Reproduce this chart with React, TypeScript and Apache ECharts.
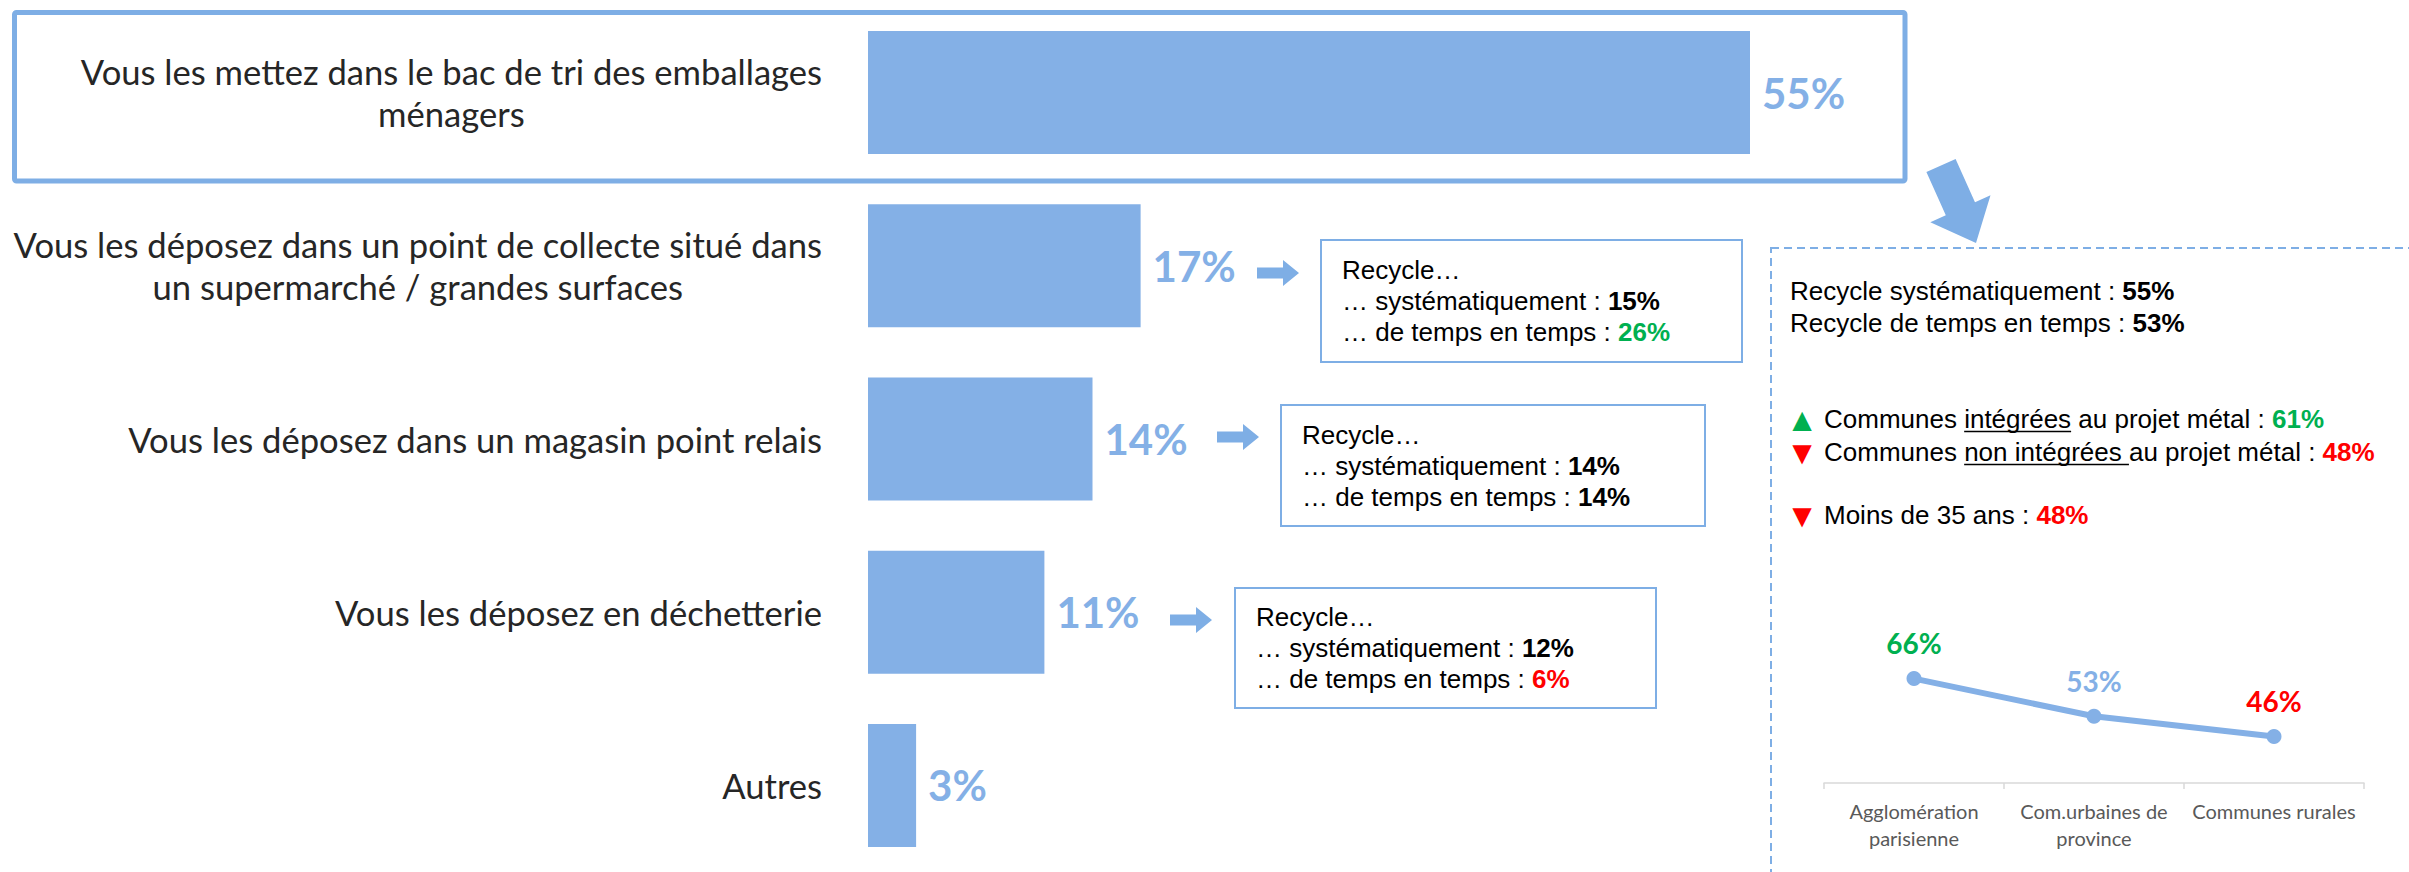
import React, { useEffect, useRef } from "react";
import * as echarts from "echarts";

// ---------- data ----------
const categories = [
  "Vous les mettez dans le bac de tri des emballages\nménagers",
  "Vous les déposez dans un point de collecte situé dans\nun supermarché / grandes surfaces",
  "Vous les déposez dans un magasin point relais",
  "Vous les déposez en déchetterie",
  "Autres",
];
const shares = [55, 17, 14, 11, 3];

// detail boxes for rows 2..4
const recycleSystematic = [15, 14, 12];
const recycleOccasional = [26, 14, 6];

// right panel
const panelSystematic = 55;
const panelOccasional = 53;
const integratedShare = 61;
const nonIntegratedShare = 48;
const under35Share = 48;

const areaCategories = ["Agglomération\nparisienne", "Com.urbaines de\nprovince", "Communes rurales"];
const areaValues = [66, 53, 46];
const areaLabelColors = ["#00b050", "#84b0e6", "#ff0000"];

// ---------- styles ----------
const BAR = "#84b0e6";
const BORDER = "#7eaee5";
const GREEN = "#00b050";
const RED = "#ff0000";
const CAL = "Lato, 'Noto Sans', sans-serif";
const ARIAL = "'Liberation Sans', Arial, sans-serif";
const FS = 26;

function measure(text: string, font: string): number {
  const ctx = document.createElement("canvas").getContext("2d")!;
  ctx.font = font;
  return ctx.measureText(text).width;
}

function rightArrow(x0: number, cy: number) {
  const len = 42, shaftH = 11, headLen = 16, headH = 26;
  const xs = x0 + len - headLen;
  return [
    [x0, cy - shaftH / 2],
    [xs, cy - shaftH / 2],
    [xs, cy - headH / 2],
    [x0 + len, cy],
    [xs, cy + headH / 2],
    [xs, cy + shaftH / 2],
    [x0, cy + shaftH / 2],
  ];
}

export default function App() {
  const ref = useRef<HTMLDivElement>(null);
  useEffect(() => {
    if (!ref.current) return;
    const chart = echarts.init(ref.current, undefined, { renderer: "svg" });

    const nrich = {
      n: { fontFamily: ARIAL, fontSize: FS, fill: "#000", lineHeight: 31 },
      b: { fontFamily: ARIAL, fontSize: FS, fill: "#000", fontWeight: "bold", lineHeight: 31 },
      g: { fontFamily: ARIAL, fontSize: FS, fill: GREEN, fontWeight: "bold", lineHeight: 31 },
      r: { fontFamily: ARIAL, fontSize: FS, fill: RED, fontWeight: "bold", lineHeight: 31 },
      k: { fontFamily: ARIAL, fontSize: FS, fill: "#000", fontWeight: "bold", lineHeight: 31 },
    };
    const occKey = ["g", "k", "r"];

    const boxes = [
      { x: 1321, y: 240, w: 421, h: 122, ax: 1257, ay: 273 },
      { x: 1281, y: 405, w: 424, h: 121, ax: 1217, ay: 437 },
      { x: 1235, y: 588, w: 421, h: 120, ax: 1170, ay: 620 },
    ];

    const graphics: any[] = [];
    // top highlight box
    graphics.push({
      type: "rect",
      shape: { x: 14.5, y: 12.5, width: 1890.5, height: 168.5, r: 2 },
      style: { fill: "none", stroke: BORDER, lineWidth: 5 },
    });
    boxes.forEach((b, i) => {
      graphics.push({
        type: "rect",
        shape: { x: b.x, y: b.y, width: b.w, height: b.h },
        style: { fill: "#fff", stroke: BORDER, lineWidth: 2 },
      });
      graphics.push({
        type: "polygon",
        shape: { points: rightArrow(b.ax, b.ay) },
        style: { fill: BORDER },
      });
      graphics.push({
        type: "text",
        style: {
          x: b.x + 21,
          y: b.y + b.h / 2,
          verticalAlign: "middle",
          align: "left",
          text:
            "{n|Recycle…}\n{n|… systématiquement : }{b|" + recycleSystematic[i] + "%}\n{n|… de temps en temps : }{" +
            occKey[i] + "|" + recycleOccasional[i] + "%}",
          rich: nrich,
          fontFamily: ARIAL,
          fontSize: FS,
          lineHeight: 31,
        },
      });
    });

    // big diagonal arrow
    graphics.push({
      type: "polygon",
      shape: {
        points: [
          [1926.4, 172],
          [1955.6, 159],
          [1975, 202.3],
          [1990.5, 195.3],
          [1976, 243],
          [1930.3, 222.3],
          [1945.8, 215.3],
        ],
      },
      style: { fill: BORDER },
    });

    // dashed panel
    graphics.push({
      type: "rect",
      shape: { x: 1771, y: 248, width: 700, height: 700 },
      style: { fill: "none", stroke: BORDER, lineWidth: 2, lineDash: [8, 5] },
    });

    const font = FS + "px " + ARIAL;
    const tx = 1790;
    graphics.push({
      type: "text",
      style: {
        x: tx, y: 291, verticalAlign: "middle",
        text: "{n|Recycle systématiquement : }{b|" + panelSystematic + "%}",
        rich: nrich, fontFamily: ARIAL, fontSize: FS,
      },
    });
    graphics.push({
      type: "text",
      style: {
        x: tx, y: 323, verticalAlign: "middle",
        text: "{n|Recycle de temps en temps : }{b|" + panelOccasional + "%}",
        rich: nrich, fontFamily: ARIAL, fontSize: FS,
      },
    });

    const lx = 1824;
    const rows = [
      { y: 419, tri: "▲", triColor: GREEN, pre: "Communes ", u: "intégrées", post: " au projet métal : ", val: integratedShare, key: "g" },
      { y: 452, tri: "▼", triColor: RED, pre: "Communes ", u: "non intégrées ", post: "au projet métal : ", val: nonIntegratedShare, key: "r" },
      { y: 515, tri: "▼", triColor: RED, pre: "Moins de 35 ans : ", u: "", post: "", val: under35Share, key: "r" },
    ];
    rows.forEach((r) => {
      graphics.push({
        type: "text",
        style: {
          x: 1802, y: r.y, align: "center", verticalAlign: "middle", text: r.tri,
          fill: r.triColor, fontFamily: ARIAL, fontSize: 33,
        },
      });
      graphics.push({
        type: "text",
        style: {
          x: lx, y: r.y, verticalAlign: "middle",
          text: "{n|" + r.pre + r.u + r.post + "}{" + r.key + "|" + r.val + "%}",
          rich: nrich, fontFamily: ARIAL, fontSize: FS,
        },
      });
      if (r.u) {
        const x1 = lx + measure(r.pre, font);
        const x2 = x1 + measure(r.u, font);
        graphics.push({
          type: "line",
          shape: { x1, y1: r.y + 12.5, x2, y2: r.y + 12.5 },
          style: { stroke: "#000", lineWidth: 1.5 },
        });
      }
    });

    const option: any = {
      animation: false,
      grid: [
        { left: 868, right: 659, top: 6, bottom: 0 },
        { left: 1824, right: 45, top: 667, bottom: 89 },
      ],
      xAxis: [
        { type: "value", gridIndex: 0, min: 0, max: 55, show: false },
        {
          type: "category",
          gridIndex: 1,
          data: areaCategories,
          boundaryGap: true,
          axisLine: { lineStyle: { color: "#d9d9d9", width: 1.5 } },
          axisTick: { show: true, length: 6, lineStyle: { color: "#d9d9d9", width: 1.5 } },
          axisLabel: { fontFamily: CAL, fontSize: 20, color: "#595959", lineHeight: 27, margin: 14, interval: 0 },
        },
      ],
      yAxis: [
        {
          type: "category",
          gridIndex: 0,
          inverse: true,
          data: categories,
          axisLine: { show: false },
          axisTick: { show: false },
          axisLabel: {
            margin: 46,
            fontFamily: CAL,
            fontSize: 34.6,
            lineHeight: 42,
            color: "#262626",
            formatter: (v: string) => v.split("\n").map((l) => "{c|" + l + "}").join("\n"),
            rich: { c: { align: "center", fontFamily: CAL, fontSize: 34.6, color: "#262626", lineHeight: 42 } },
          },
        },
        { type: "value", gridIndex: 1, min: 30, max: 70, show: false },
      ],
      series: [
        {
          type: "bar",
          xAxisIndex: 0,
          yAxisIndex: 0,
          data: shares,
          barWidth: 123,
          itemStyle: { color: BAR },
          label: {
            show: true,
            position: "right",
            distance: 12,
            formatter: "{c}%",
            fontFamily: CAL,
            fontWeight: "bold",
            fontSize: 42,
            color: BAR,
          },
        },
        {
          type: "line",
          xAxisIndex: 1,
          yAxisIndex: 1,
          data: areaValues.map((v, i) => ({ value: v, label: { color: areaLabelColors[i] } })),
          symbol: "circle",
          symbolSize: 15,
          lineStyle: { width: 6, color: BAR },
          itemStyle: { color: BAR },
          label: {
            show: true,
            position: "top",
            distance: 14,
            formatter: "{c}%",
            fontFamily: CAL,
            fontWeight: "bold",
            fontSize: 28,
          },
        },
      ],
      graphic: graphics,
    };
    chart.setOption(option);
    return () => chart.dispose();
  }, []);
  return (
    <div
      ref={ref}
      style={{ position: "fixed", left: 0, top: 0, width: 2409, height: 872, background: "#fff" }}
    />
  );
}
